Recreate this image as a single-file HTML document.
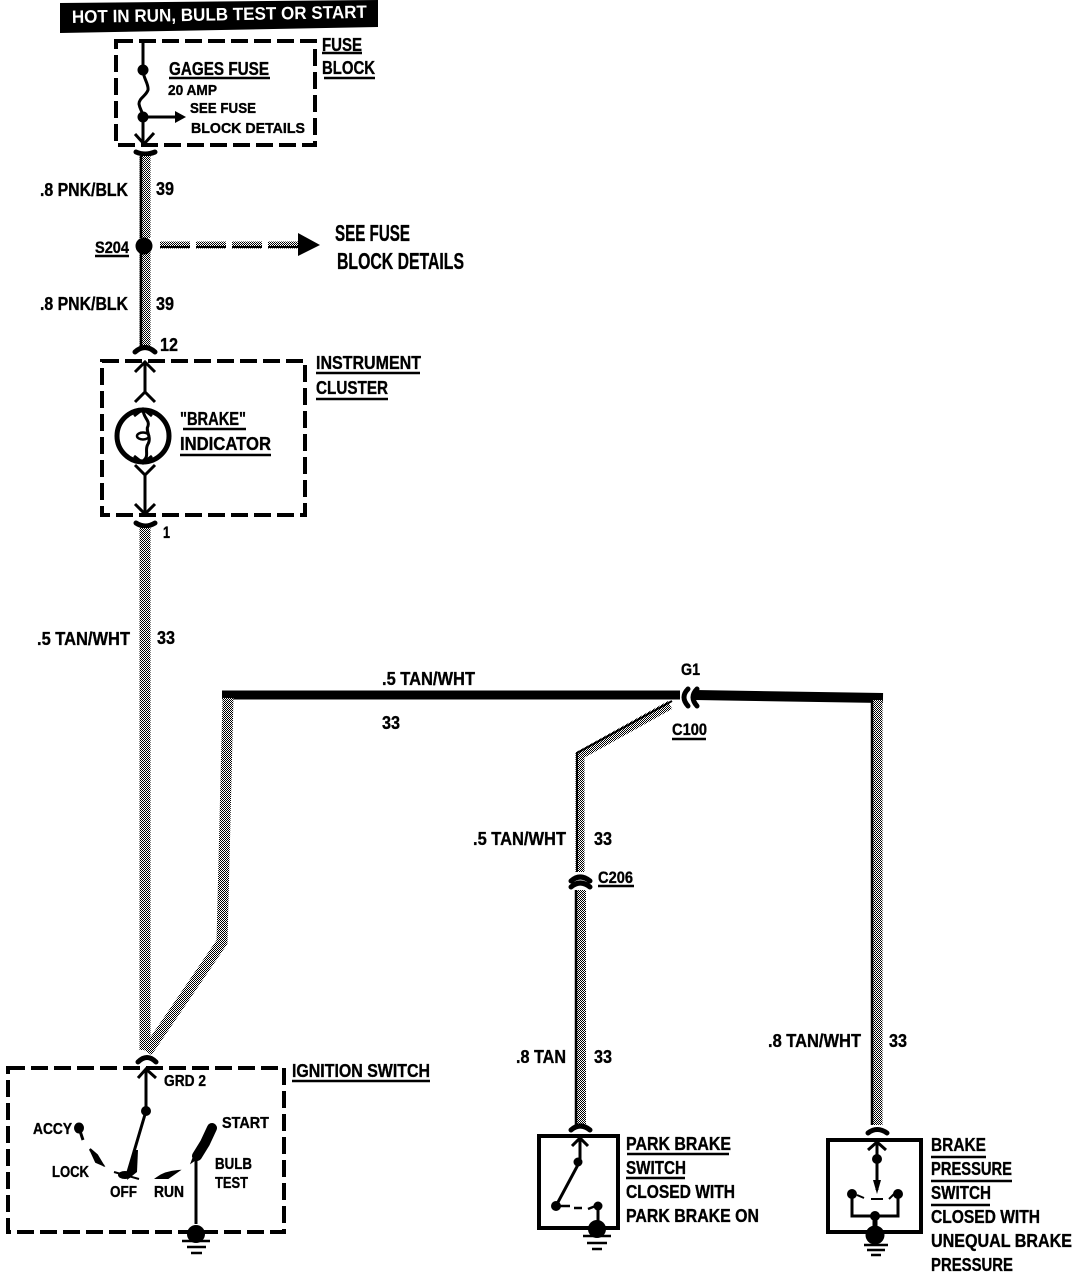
<!DOCTYPE html>
<html><head><meta charset="utf-8"><style>
html,body{margin:0;padding:0;background:#fff}
svg{display:block}
text{font-family:"Liberation Sans",sans-serif;font-weight:bold;fill:#000;stroke:#000;stroke-width:.35}
.d{fill:none;stroke:#000;stroke-width:4;stroke-dasharray:17 6}
.l{fill:none;stroke:#000;stroke-width:3}
.u{stroke:#000;stroke-width:2.5}
.w{fill:none;stroke:url(#h);stroke-width:11}
.e{fill:none;stroke:#000;stroke-width:2.5}
.c{fill:none;stroke:#000;stroke-width:5;stroke-linecap:round}
</style></head><body>
<svg width="1088" height="1274" viewBox="0 0 1088 1274" xmlns="http://www.w3.org/2000/svg">
<defs><pattern id="h" width="2" height="2" patternUnits="userSpaceOnUse"><rect width="2" height="2" fill="#fff"/><rect width="1" height="1" fill="#000"/><rect x="1" y="1" width="1" height="1" fill="#000"/></pattern></defs>
<rect width="1088" height="1274" fill="#fff"/>

<!-- banner -->
<polygon points="60,3 378,0 378,27 60,33" fill="#000"/>
<text x="72" y="23" font-size="18" textLength="295" lengthAdjust="spacingAndGlyphs" style="fill:#fff;stroke:none" transform="rotate(-1 72 23)">HOT IN RUN, BULB TEST OR START</text>

<!-- fuse block -->
<rect class="d" x="116" y="41" width="199" height="104"/>
<path class="l" d="M143 41V70C143 78 149 84 148 90C146 96 139 98 139 104C140 110 143 112 143 117V145"/>
<circle cx="143" cy="70" r="5.5"/><circle cx="143" cy="117" r="5.5"/>
<path class="l" d="M143 117H178"/><polygon points="175,111 186,117 175,123"/>
<path class="l" d="M135 134L144 144L154 133"/>
<path class="c" d="M136 152Q145 156 155 152"/>
<text x="322" y="51" font-size="18" textLength="40" lengthAdjust="spacingAndGlyphs">FUSE</text><line class="u" x1="322" y1="53" x2="362" y2="53"/>
<text x="322" y="74" font-size="18" textLength="53" lengthAdjust="spacingAndGlyphs">BLOCK</text><line class="u" x1="324" y1="78" x2="375" y2="78"/>
<text x="169" y="75" font-size="18" textLength="100" lengthAdjust="spacingAndGlyphs">GAGES FUSE</text><line class="u" x1="169" y1="78" x2="270" y2="78"/>
<text x="168" y="95" font-size="15" textLength="49" lengthAdjust="spacingAndGlyphs">20 AMP</text>
<text x="190" y="113" font-size="15" textLength="66" lengthAdjust="spacingAndGlyphs">SEE FUSE</text>
<text x="191" y="133" font-size="15" textLength="114" lengthAdjust="spacingAndGlyphs">BLOCK DETAILS</text>

<!-- main wires -->
<path class="w" d="M145 156V238M145 252V350"/>
<path class="e" d="M141 156V238M141 252V350"/>
<circle cx="144" cy="246" r="8.5"/>
<path d="M160 245H298" fill="none" stroke="url(#h)" stroke-width="7" stroke-dasharray="30 6"/>
<path d="M160 247H298" fill="none" stroke="#000" stroke-width="2" stroke-dasharray="30 6"/>
<polygon points="298,233 320,245 298,256"/>
<text x="40" y="196" font-size="18" textLength="88" lengthAdjust="spacingAndGlyphs">.8 PNK/BLK</text>
<text x="156" y="195" font-size="18" textLength="18" lengthAdjust="spacingAndGlyphs">39</text>
<text x="95" y="253" font-size="17" textLength="34" lengthAdjust="spacingAndGlyphs">S204</text><line class="u" x1="95" y1="256" x2="129" y2="256"/>
<text x="335" y="241" font-size="23" textLength="75" lengthAdjust="spacingAndGlyphs">SEE FUSE</text>
<text x="337" y="269" font-size="23" textLength="127" lengthAdjust="spacingAndGlyphs">BLOCK DETAILS</text>
<text x="40" y="310" font-size="18" textLength="88" lengthAdjust="spacingAndGlyphs">.8 PNK/BLK</text>
<text x="156" y="310" font-size="18" textLength="18" lengthAdjust="spacingAndGlyphs">39</text>

<!-- instrument cluster -->
<path class="c" d="M135 352Q145 343 155 352"/>
<text x="160" y="351" font-size="18" textLength="18" lengthAdjust="spacingAndGlyphs">12</text>
<rect class="d" x="102" y="361" width="203" height="154"/>
<path class="l" d="M135 372L145 362L155 372M145 362V392M135 402L145 392L155 402"/>
<circle cx="143" cy="436" r="26" fill="none" stroke="#000" stroke-width="5"/>
<path class="l" d="M134 416L143 409L152 416M143 409C143 418 150 420 148 426C145 431 152 437 148 444C144 450 150 456 143 461M134 456L143 463L152 456"/>
<ellipse cx="143" cy="436" rx="6" ry="3.5" fill="none" stroke="#000" stroke-width="2.5"/>
<path class="l" d="M135 465L145 475L155 465M145 475V514M135 504L145 514L155 504"/>
<path class="c" d="M136 523Q145 529 155 523"/>
<text x="163" y="538" font-size="17" textLength="7" lengthAdjust="spacingAndGlyphs">1</text>
<text x="180" y="425" font-size="18" textLength="66" lengthAdjust="spacingAndGlyphs">"BRAKE"</text><line class="u" x1="183" y1="429" x2="246" y2="429"/>
<text x="180" y="450" font-size="18" textLength="91" lengthAdjust="spacingAndGlyphs">INDICATOR</text><line class="u" x1="180" y1="455" x2="271" y2="455"/>
<text x="316" y="369" font-size="18" textLength="105" lengthAdjust="spacingAndGlyphs">INSTRUMENT</text><line class="u" x1="316" y1="373" x2="420" y2="373"/>
<text x="316" y="394" font-size="18" textLength="72" lengthAdjust="spacingAndGlyphs">CLUSTER</text><line class="u" x1="316" y1="399" x2="388" y2="399"/>

<path class="w" d="M145 528V1050"/>
<text x="37" y="645" font-size="18" textLength="93" lengthAdjust="spacingAndGlyphs">.5 TAN/WHT</text>
<text x="157" y="644" font-size="18" textLength="18" lengthAdjust="spacingAndGlyphs">33</text>

<!-- horizontal bus -->
<path d="M222 695H680" stroke="#000" stroke-width="9" fill="none"/>
<path d="M695 695L883 698" stroke="#000" stroke-width="10" fill="none"/>
<path class="c" d="M688 689Q680 697 688 706M697 689Q689 697 697 706"/>
<path class="w" d="M228 698L222 942L147 1052"/>
<path d="M670 705L580 755V872" fill="none" stroke="url(#h)" stroke-width="9"/>
<path d="M577 872V753L672 701" fill="none" stroke="#000" stroke-width="2"/>
<path class="w" d="M877 700V1125"/>
<path class="w" d="M581 890V1125" style="stroke-width:10"/>
<path class="e" d="M576 890V1125M872 700V1125"/>
<path class="c" d="M571 887Q580 879 590 887M571 881Q580 873 590 881"/>
<text x="382" y="685" font-size="18" textLength="93" lengthAdjust="spacingAndGlyphs">.5 TAN/WHT</text>
<text x="382" y="729" font-size="18" textLength="18" lengthAdjust="spacingAndGlyphs">33</text>
<text x="681" y="675" font-size="17" textLength="19" lengthAdjust="spacingAndGlyphs">G1</text>
<text x="672" y="735" font-size="17" textLength="35" lengthAdjust="spacingAndGlyphs">C100</text><line class="u" x1="672" y1="739" x2="706" y2="739"/>
<text x="598" y="883" font-size="17" textLength="35" lengthAdjust="spacingAndGlyphs">C206</text><line class="u" x1="598" y1="886" x2="634" y2="886"/>
<text x="473" y="845" font-size="18" textLength="93" lengthAdjust="spacingAndGlyphs">.5 TAN/WHT</text>
<text x="594" y="845" font-size="18" textLength="18" lengthAdjust="spacingAndGlyphs">33</text>
<text x="516" y="1063" font-size="18" textLength="50" lengthAdjust="spacingAndGlyphs">.8 TAN</text>
<text x="594" y="1063" font-size="18" textLength="18" lengthAdjust="spacingAndGlyphs">33</text>
<text x="768" y="1047" font-size="18" textLength="93" lengthAdjust="spacingAndGlyphs">.8 TAN/WHT</text>
<text x="889" y="1047" font-size="18" textLength="18" lengthAdjust="spacingAndGlyphs">33</text>

<!-- ignition switch -->
<path class="c" d="M138 1062Q147 1053 156 1062"/>
<rect class="d" x="8" y="1068" width="276" height="164"/>
<path class="l" d="M138 1078L146 1069L156 1078M146 1069V1111L128 1172"/>
<path d="M133 1150L127 1180L137 1172L138 1150Z"/>
<circle cx="146" cy="1111" r="5"/>
<ellipse cx="125" cy="1175" rx="7" ry="4"/><path d="M114 1172L139 1179" stroke="#000" stroke-width="2"/>
<ellipse cx="79" cy="1128" rx="5" ry="5.5"/><path d="M79 1128L83 1140" stroke="#000" stroke-width="3"/>
<path d="M90 1149L97 1155L103 1165L96 1162Z M90 1150L104 1166" stroke="#000" stroke-width="2"/>
<path d="M157 1178Q165 1172 178 1171L168 1178Z" stroke="#000" stroke-width="2"/>
<path d="M212 1128L205 1143L197 1156" fill="none" stroke="#000" stroke-width="10" stroke-linecap="round"/>
<path d="M191 1163L196 1150L201 1156Z" stroke="#000"/>
<path class="l" d="M196 1160V1224"/>
<circle cx="196" cy="1234" r="9"/>
<path d="M182 1241H210M187 1247H206M191 1253H202" stroke="#000" stroke-width="2.5"/>
<text x="33" y="1134" font-size="15.5" textLength="39" lengthAdjust="spacingAndGlyphs">ACCY</text>
<text x="52" y="1177" font-size="15.5" textLength="37" lengthAdjust="spacingAndGlyphs">LOCK</text>
<text x="110" y="1197" font-size="15.5" textLength="27" lengthAdjust="spacingAndGlyphs">OFF</text>
<text x="154" y="1197" font-size="15.5" textLength="30" lengthAdjust="spacingAndGlyphs">RUN</text>
<text x="222" y="1128" font-size="15.5" textLength="47" lengthAdjust="spacingAndGlyphs">START</text>
<text x="215" y="1169" font-size="15.5" textLength="37" lengthAdjust="spacingAndGlyphs">BULB</text>
<text x="215" y="1188" font-size="15.5" textLength="33" lengthAdjust="spacingAndGlyphs">TEST</text>
<text x="164" y="1086" font-size="15.5" textLength="42" lengthAdjust="spacingAndGlyphs">GRD 2</text>
<text x="292" y="1077" font-size="18" textLength="138" lengthAdjust="spacingAndGlyphs">IGNITION SWITCH</text><line class="u" x1="292" y1="1081" x2="430" y2="1081"/>

<!-- park brake -->
<path class="c" d="M571 1130Q580 1122 590 1130"/>
<rect x="539" y="1136" width="79" height="92" fill="none" stroke="#000" stroke-width="4"/>
<path class="l" d="M572 1146L580 1138L588 1146M580 1138V1161L557 1204"/>
<circle cx="578" cy="1162" r="4.5"/><circle cx="556" cy="1206" r="5"/>
<path d="M560 1206H570M574 1208H582" stroke="#000" stroke-width="2.5"/>
<circle cx="598" cy="1206" r="4.5"/><path d="M588 1209L598 1205" stroke="#000" stroke-width="2.5"/><path d="M598 1206V1222" stroke="#000" stroke-width="3"/>
<circle cx="597" cy="1229" r="9"/>
<path d="M583 1236H611M587 1243H607M592 1249H602" stroke="#000" stroke-width="2.5"/>
<text x="626" y="1150" font-size="18" textLength="105" lengthAdjust="spacingAndGlyphs">PARK BRAKE</text><line class="u" x1="627" y1="1154" x2="729" y2="1154"/>
<text x="626" y="1174" font-size="18" textLength="60" lengthAdjust="spacingAndGlyphs">SWITCH</text><line class="u" x1="626" y1="1178" x2="685" y2="1178"/>
<text x="626" y="1198" font-size="18" textLength="109" lengthAdjust="spacingAndGlyphs">CLOSED WITH</text>
<text x="626" y="1222" font-size="18" textLength="133" lengthAdjust="spacingAndGlyphs">PARK BRAKE ON</text>

<!-- brake pressure -->
<path class="c" d="M868 1133Q877 1126 887 1133"/>
<rect x="828" y="1140" width="93" height="92" fill="none" stroke="#000" stroke-width="4"/>
<path class="l" d="M868 1150L877 1142L886 1150M877 1142V1190"/>
<circle cx="877" cy="1159" r="5"/><polygon points="873,1180 881,1180 877,1194"/>
<path d="M871 1199H883" stroke="#000" stroke-width="2"/>
<circle cx="852" cy="1194" r="5"/><circle cx="898" cy="1194" r="5"/>
<path d="M852 1194V1216H898V1194" fill="none" stroke="#000" stroke-width="3"/>
<path d="M857 1195L864 1198M894 1194L889 1199" stroke="#000" stroke-width="2"/>
<circle cx="875" cy="1216" r="5"/>
<circle cx="875" cy="1235" r="9.5"/><path d="M875 1218V1230" stroke="#000" stroke-width="5"/>
<path d="M864 1245H888M867 1250H885M871 1255H881" stroke="#000" stroke-width="2.5"/>
<text x="931" y="1151" font-size="18" textLength="55" lengthAdjust="spacingAndGlyphs">BRAKE</text><line class="u" x1="931" y1="1157" x2="986" y2="1157"/>
<text x="931" y="1175" font-size="18" textLength="81" lengthAdjust="spacingAndGlyphs">PRESSURE</text><line class="u" x1="931" y1="1181" x2="1012" y2="1181"/>
<text x="931" y="1199" font-size="18" textLength="60" lengthAdjust="spacingAndGlyphs">SWITCH</text><line class="u" x1="931" y1="1205" x2="990" y2="1205"/>
<text x="931" y="1223" font-size="18" textLength="109" lengthAdjust="spacingAndGlyphs">CLOSED WITH</text>
<text x="931" y="1247" font-size="18" textLength="141" lengthAdjust="spacingAndGlyphs">UNEQUAL BRAKE</text>
<text x="931" y="1271" font-size="18" textLength="82" lengthAdjust="spacingAndGlyphs">PRESSURE</text>
</svg>
</body></html>
